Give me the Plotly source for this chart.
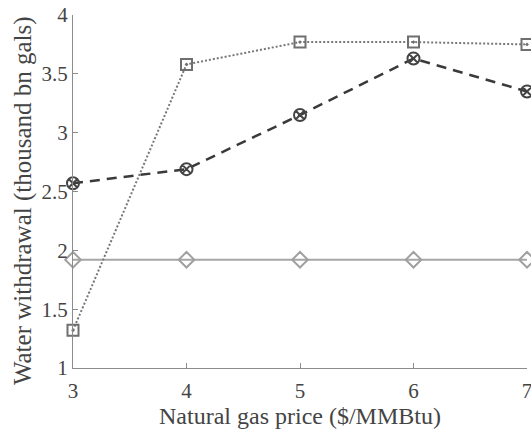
import plotly.graph_objects as go

prices = [3, 4, 5, 6, 7]
series_square = [1.32, 3.58, 3.77, 3.77, 3.75]
series_circle = [2.57, 2.69, 3.15, 3.63, 3.35]
series_diamond = [1.92, 1.92, 1.92, 1.92, 1.92]
x_ticks = [3, 4, 5, 6, 7]
y_ticks = [1, 1.5, 2, 2.5, 3, 3.5, 4]
y_tick_labels = ["1", "1.5", "2", "2.5", "3", "3.5", "4"]
x_title = "Natural gas price ($/MMBtu)"
y_title = "Water withdrawal (thousand bn gals)"

SERIF = "'Liberation Serif', 'Times New Roman', Times, serif"

fig = go.Figure()
fig.add_trace(go.Scatter(
    x=prices, y=series_diamond, mode="lines+markers",
    line=dict(color="#a6a6a6", width=2, dash="solid"),
    marker=dict(symbol="diamond-open", size=12, color="#a0a0a0", line=dict(width=2)),
    cliponaxis=False, showlegend=False))
fig.add_trace(go.Scatter(
    x=prices, y=series_square, mode="lines+markers",
    line=dict(color="#777777", width=2, dash="2px,2px"),
    marker=dict(symbol="square-open-dot", size=11, color="#6f6f6f", line=dict(width=2)),
    cliponaxis=False, showlegend=False))
fig.add_trace(go.Scatter(
    x=prices, y=series_circle, mode="lines+markers",
    line=dict(color="#3a3a3a", width=2.5, dash="10px,7px"),
    marker=dict(symbol="circle-x-open", size=12, color="#444444", line=dict(width=2)),
    cliponaxis=False, showlegend=False))

axis_common = dict(
    showgrid=False, zeroline=False, showline=True, linecolor="#8c8c8c", linewidth=1,
    ticks="inside", ticklen=5, tickcolor="#8c8c8c", ticklabeloverflow="allow",
    automargin=False,
    tickfont=dict(family=SERIF, size=21, color="#444444"),
)
fig.update_xaxes(range=[3, 7], tickvals=x_ticks, ticklabelstandoff=4,
                 title=dict(text=x_title, standoff=0,
                            font=dict(family=SERIF, size=24, color="#444444")),
                 **axis_common)
fig.update_yaxes(range=[1, 4], tickvals=y_ticks, ticktext=y_tick_labels,
                 **axis_common)
fig.add_annotation(text=y_title, xref="paper", yref="paper", x=-0.11, y=0.473,
                   textangle=-90, showarrow=False, xanchor="center", yanchor="middle",
                   font=dict(family=SERIF, size=25, color="#444444"))
fig.update_layout(
    width=531, height=433,
    margin=dict(l=73, r=4, t=15, b=65),
    font=dict(family=SERIF),
    plot_bgcolor="white", paper_bgcolor="white",
)
fig.write_html("out.html", config={"displayModeBar": False},
               post_script="document.body.style.margin='0';document.body.style.overflow='hidden';")
